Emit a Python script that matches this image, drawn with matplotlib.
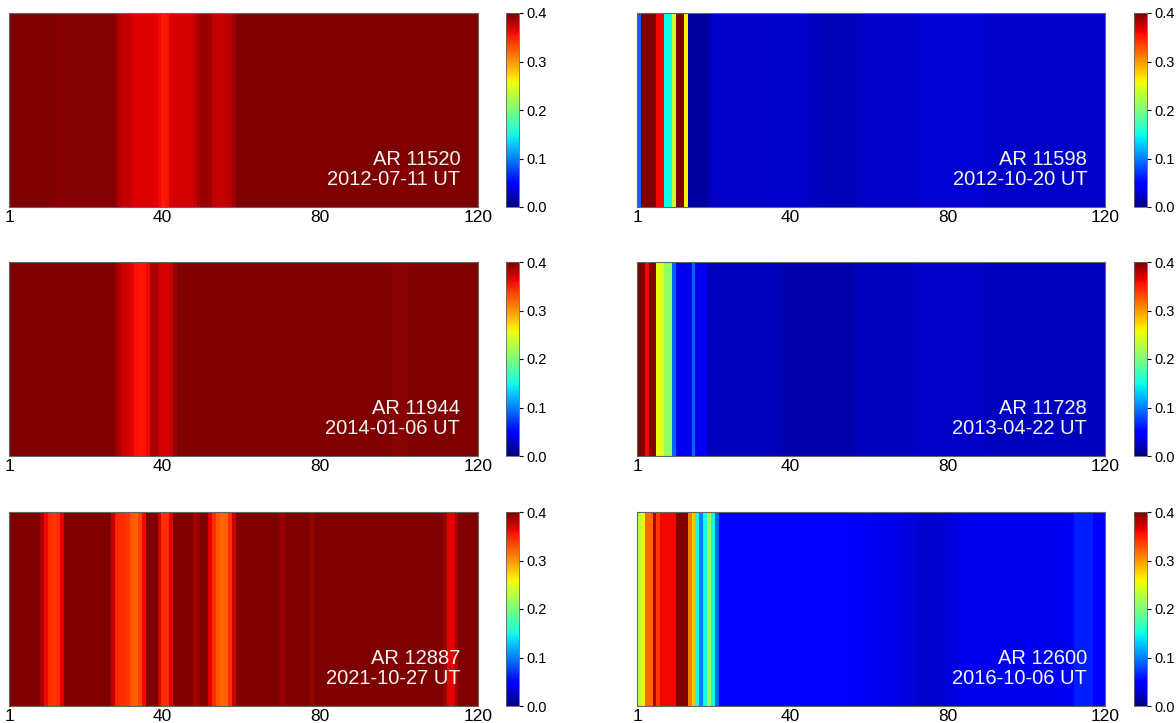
# ==========================================================
# IMPORT LIBRARIES
# ==========================================================

import numpy as np
import matplotlib

matplotlib.use("Agg")

import matplotlib.pyplot as plt

plt.rcParams["font.family"] = ["Liberation Sans", "DejaVu Sans"]

# ==========================================================
# DATA (one value per column, columns 1..120)
# ==========================================================

AR_11520 = [
    0.46, 0.46, 0.46, 0.46, 0.46, 0.46, 0.46, 0.46, 0.46, 0.46,
    0.46, 0.398, 0.398, 0.398, 0.398, 0.398, 0.398, 0.398, 0.398, 0.398,
    0.398, 0.398, 0.398, 0.398, 0.398, 0.398, 0.398, 0.39, 0.38, 0.375,
    0.375, 0.372, 0.367, 0.367, 0.367, 0.367, 0.367, 0.365, 0.36, 0.352,
    0.355, 0.368, 0.37, 0.37, 0.37, 0.37, 0.37, 0.375, 0.385, 0.39,
    0.392, 0.388, 0.378, 0.375, 0.375, 0.375, 0.38, 0.39, 0.45, 0.45,
    0.45, 0.45, 0.45, 0.45, 0.45, 0.45, 0.45, 0.45, 0.45, 0.45,
    0.45, 0.45, 0.45, 0.45, 0.45, 0.45, 0.45, 0.45, 0.45, 0.45,
    0.45, 0.45, 0.45, 0.45, 0.45, 0.45, 0.45, 0.45, 0.45, 0.45,
    0.45, 0.45, 0.45, 0.45, 0.45, 0.45, 0.45, 0.45, 0.45, 0.45,
    0.45, 0.45, 0.45, 0.45, 0.45, 0.45, 0.45, 0.45, 0.45, 0.45,
    0.45, 0.45, 0.45, 0.45, 0.45, 0.45, 0.45, 0.45, 0.45, 0.45,
]

AR_11944 = [
    0.45, 0.45, 0.45, 0.45, 0.45, 0.45, 0.45, 0.45, 0.45, 0.45,
    0.45, 0.45, 0.45, 0.45, 0.45, 0.45, 0.45, 0.45, 0.45, 0.45,
    0.45, 0.45, 0.45, 0.45, 0.45, 0.45, 0.45, 0.39, 0.38, 0.372,
    0.37, 0.365, 0.357, 0.355, 0.355, 0.36, 0.385, 0.385, 0.372, 0.37,
    0.37, 0.375, 0.39, 0.45, 0.45, 0.45, 0.45, 0.45, 0.45, 0.45,
    0.45, 0.45, 0.45, 0.45, 0.45, 0.45, 0.45, 0.45, 0.45, 0.45,
    0.45, 0.45, 0.45, 0.45, 0.45, 0.45, 0.45, 0.45, 0.45, 0.45,
    0.45, 0.45, 0.45, 0.45, 0.45, 0.45, 0.45, 0.45, 0.45, 0.45,
    0.45, 0.45, 0.45, 0.45, 0.45, 0.45, 0.45, 0.45, 0.45, 0.45,
    0.45, 0.45, 0.45, 0.45, 0.45, 0.45, 0.45, 0.45, 0.396, 0.396,
    0.396, 0.396, 0.45, 0.45, 0.45, 0.45, 0.45, 0.45, 0.45, 0.45,
    0.45, 0.45, 0.45, 0.45, 0.45, 0.45, 0.45, 0.45, 0.45, 0.45,
]

AR_12887 = [
    0.45, 0.45, 0.45, 0.45, 0.45, 0.45, 0.45, 0.45, 0.385, 0.36,
    0.345, 0.342, 0.345, 0.365, 0.45, 0.45, 0.45, 0.45, 0.45, 0.45,
    0.45, 0.45, 0.45, 0.45, 0.45, 0.45, 0.375, 0.35, 0.345, 0.345,
    0.34, 0.325, 0.322, 0.335, 0.36, 0.43, 0.43, 0.43, 0.37, 0.345,
    0.345, 0.365, 0.45, 0.45, 0.45, 0.45, 0.45, 0.385, 0.39, 0.45,
    0.45, 0.365, 0.345, 0.325, 0.32, 0.322, 0.345, 0.372, 0.45, 0.45,
    0.45, 0.45, 0.45, 0.45, 0.45, 0.45, 0.45, 0.45, 0.45, 0.392,
    0.392, 0.45, 0.45, 0.45, 0.45, 0.45, 0.45, 0.39, 0.45, 0.45,
    0.45, 0.45, 0.45, 0.45, 0.45, 0.45, 0.45, 0.45, 0.45, 0.45,
    0.45, 0.45, 0.45, 0.45, 0.45, 0.45, 0.45, 0.45, 0.45, 0.45,
    0.45, 0.45, 0.45, 0.45, 0.45, 0.45, 0.45, 0.45, 0.45, 0.45,
    0.45, 0.39, 0.365, 0.365, 0.385, 0.45, 0.45, 0.45, 0.45, 0.45,
]

AR_11598 = [
    0.09, 0.45, 0.45, 0.45, 0.45, 0.36, 0.36, 0.15, 0.15, 0.24,
    0.45, 0.45, 0.26, 0.012, 0.012, 0.012, 0.012, 0.012, 0.015, 0.025,
    0.025, 0.025, 0.025, 0.025, 0.025, 0.025, 0.025, 0.025, 0.025, 0.025,
    0.025, 0.027, 0.027, 0.027, 0.027, 0.027, 0.027, 0.027, 0.027, 0.027,
    0.027, 0.027, 0.027, 0.024, 0.024, 0.022, 0.022, 0.02, 0.02, 0.02,
    0.02, 0.02, 0.02, 0.02, 0.02, 0.02, 0.022, 0.022, 0.025, 0.025,
    0.025, 0.025, 0.025, 0.025, 0.025, 0.025, 0.025, 0.025, 0.025, 0.025,
    0.025, 0.028, 0.031, 0.031, 0.031, 0.031, 0.031, 0.031, 0.031, 0.031,
    0.031, 0.031, 0.031, 0.031, 0.031, 0.031, 0.031, 0.031, 0.029, 0.027,
    0.026, 0.026, 0.026, 0.026, 0.026, 0.026, 0.026, 0.026, 0.026, 0.026,
    0.026, 0.026, 0.026, 0.026, 0.026, 0.026, 0.026, 0.026, 0.026, 0.026,
    0.026, 0.026, 0.026, 0.026, 0.026, 0.026, 0.026, 0.026, 0.026, 0.026,
]

AR_11728 = [
    0.45, 0.45, 0.36, 0.45, 0.45, 0.25, 0.25, 0.21, 0.21, 0.09,
    0.04, 0.04, 0.04, 0.04, 0.09, 0.04, 0.04, 0.04, 0.022, 0.022,
    0.022, 0.022, 0.022, 0.022, 0.022, 0.022, 0.022, 0.022, 0.022, 0.022,
    0.022, 0.022, 0.022, 0.022, 0.022, 0.022, 0.02, 0.018, 0.016, 0.016,
    0.016, 0.016, 0.016, 0.016, 0.016, 0.016, 0.016, 0.016, 0.016, 0.016,
    0.016, 0.016, 0.016, 0.016, 0.016, 0.018, 0.02, 0.022, 0.022, 0.022,
    0.022, 0.022, 0.022, 0.022, 0.022, 0.022, 0.022, 0.022, 0.022, 0.022,
    0.022, 0.024, 0.026, 0.026, 0.026, 0.026, 0.026, 0.026, 0.026, 0.026,
    0.026, 0.026, 0.026, 0.026, 0.026, 0.026, 0.026, 0.026, 0.026, 0.024,
    0.022, 0.022, 0.022, 0.022, 0.022, 0.022, 0.022, 0.022, 0.022, 0.022,
    0.022, 0.022, 0.022, 0.022, 0.022, 0.022, 0.022, 0.022, 0.022, 0.022,
    0.022, 0.022, 0.022, 0.022, 0.022, 0.022, 0.022, 0.022, 0.022, 0.022,
]

AR_12600 = [
    0.23, 0.26, 0.32, 0.32, 0.38, 0.34, 0.36, 0.36, 0.36, 0.36,
    0.45, 0.45, 0.45, 0.31, 0.28, 0.15, 0.10, 0.15, 0.21, 0.15,
    0.09, 0.048, 0.048, 0.048, 0.048, 0.048, 0.048, 0.048, 0.048, 0.048,
    0.048, 0.048, 0.048, 0.048, 0.048, 0.048, 0.048, 0.048, 0.048, 0.048,
    0.046, 0.046, 0.046, 0.046, 0.046, 0.046, 0.046, 0.046, 0.046, 0.046,
    0.044, 0.044, 0.044, 0.044, 0.044, 0.043, 0.043, 0.043, 0.042, 0.042,
    0.04, 0.04, 0.04, 0.04, 0.038, 0.038, 0.036, 0.036, 0.034, 0.034,
    0.032, 0.03, 0.028, 0.028, 0.028, 0.028, 0.028, 0.028, 0.03, 0.03,
    0.032, 0.034, 0.036, 0.038, 0.038, 0.04, 0.04, 0.04, 0.04, 0.04,
    0.04, 0.04, 0.04, 0.04, 0.04, 0.04, 0.04, 0.04, 0.04, 0.04,
    0.04, 0.04, 0.04, 0.04, 0.04, 0.04, 0.04, 0.04, 0.04, 0.04,
    0.04, 0.043, 0.062, 0.062, 0.062, 0.062, 0.062, 0.048, 0.043, 0.043,
]

PANELS_LEFT = [
    (AR_11520, "AR 11520\n2012-07-11 UT"),
    (AR_11944, "AR 11944\n2014-01-06 UT"),
    (AR_12887, "AR 12887\n2021-10-27 UT"),
]

PANELS_RIGHT = [
    (AR_11598, "AR 11598\n2012-10-20 UT"),
    (AR_11728, "AR 11728\n2013-04-22 UT"),
    (AR_12600, "AR 12600\n2016-10-06 UT"),
]

X_TICKS = [1, 40, 80, 120]
CBAR_TICKS = [0.0, 0.1, 0.2, 0.3, 0.4]

# ==========================================================
# LAYOUT (figure fractions)
# ==========================================================

W, H = 1176, 723

ROW_Y = [1 - 207 / H, 1 - 456 / H, 1 - 706 / H]
ROW_H = 194 / H

LEFT_X, LEFT_W = 9 / W, 469 / W
RIGHT_X, RIGHT_W = 637 / W, 468 / W

CB_LEFT_X, CB_RIGHT_X = 506 / W, 1134 / W
CB_W = 13 / W


# ==========================================================
# DRAW ONE PANEL
# ==========================================================

def draw_panel(fig, x0, w, y0, cbx, values, label):

    ax = fig.add_axes([x0, y0, w, ROW_H])

    data = np.array(values)[np.newaxis, :]

    im = ax.imshow(
        data,
        cmap="jet",
        vmin=0.0,
        vmax=0.4,
        aspect="auto",
        interpolation="nearest",
        extent=[1, 120, 0, 1],
    )

    ax.set_xlim(1, 120)
    ax.set_ylim(0, 1)
    ax.set_xticks(X_TICKS)
    ax.set_yticks([])
    ax.tick_params(axis="x", length=0, pad=2, labelsize=12.5)

    for s in ax.spines.values():
        s.set_linewidth(0.8)
        s.set_color("#666666")

    ax.text(
        0.962, 0.095,
        label,
        transform=ax.transAxes,
        ha="right",
        va="bottom",
        color="#f4f4f4",
        fontsize=14.5,
        linespacing=1.05,
    )

    cax = fig.add_axes([cbx, y0, CB_W, ROW_H])

    cb = fig.colorbar(im, cax=cax, ticks=CBAR_TICKS)
    cb.ax.set_yticklabels([f"{t:.1f}" for t in CBAR_TICKS])
    cb.ax.tick_params(labelsize=10.5, length=3, width=0.8, pad=2)
    cb.outline.set_linewidth(0.6)
    cb.outline.set_edgecolor("#666666")


# ==========================================================
# MAIN
# ==========================================================

def main():

    fig = plt.figure(figsize=(W / 100, H / 100), dpi=100)

    for row, (vals, lab) in enumerate(PANELS_LEFT):
        draw_panel(fig, LEFT_X, LEFT_W, ROW_Y[row], CB_LEFT_X, vals, lab)

    for row, (vals, lab) in enumerate(PANELS_RIGHT):
        draw_panel(fig, RIGHT_X, RIGHT_W, ROW_Y[row], CB_RIGHT_X, vals, lab)

    fig.savefig("out.png", dpi=100)

    plt.close(fig)


if __name__ == "__main__":

    main()
